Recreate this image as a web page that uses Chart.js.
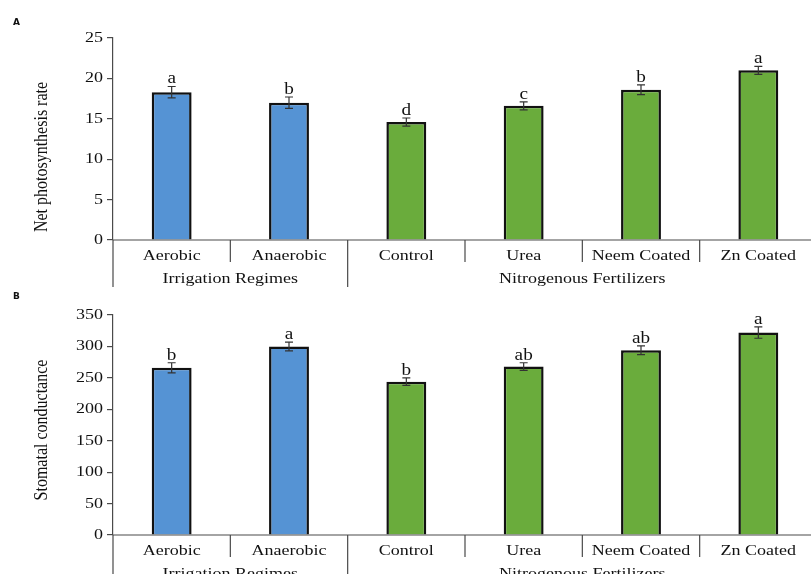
<!DOCTYPE html>
<html>
<head>
<meta charset="utf-8">
<title>Net photosynthesis rate and stomatal conductance</title>
<script src="https://cdn.jsdelivr.net/npm/chart.js@4.4.1/dist/chart.umd.min.js"></script>
<style>
    body { margin: 0; background: #fff; width: 811px; height: 574px; overflow: hidden; position: relative; }
    .panel { position: absolute; left: 0; width: 817px; }
</style>
</head>
<body>
<div class="panel" style="top:0;height:290px"><canvas id="photoCanvas"></canvas></div>
<div class="panel" style="top:290px;height:284px"><canvas id="stomCanvas"></canvas></div>

<script>
// categories and groups
const categories = ['Aerobic', 'Anaerobic', 'Control', 'Urea', 'Neem Coated', 'Zn Coated'];
const groupNames = ['Irrigation Regimes', 'Nitrogenous Fertilizers'];
const groupSizes = [2, 4];

// panel A - net photosynthesis rate
const photoValues = [18.3, 17.0, 14.6, 16.6, 18.6, 21.0];
const photoErrors = [0.7, 0.7, 0.5, 0.5, 0.6, 0.5];
const photoLetters = ['a', 'b', 'd', 'c', 'b', 'a'];
const photoTicks = [0, 5, 10, 15, 20, 25];

// panel B - stomatal conductance
const stomValues = [266, 300, 244, 268, 294, 322];
const stomErrors = [8, 7, 6, 6, 7, 9];
const stomLetters = ['b', 'a', 'b', 'ab', 'ab', 'a'];
const stomTicks = [0, 50, 100, 150, 200, 250, 300, 350];

const blue = '#5593d4';
const green = '#6aac3c';
const axisColor = '#4a4a4a';
const textColor = '#111';
const serif = '"Liberation Serif", "Times New Roman", serif';
const stretch = 1.2; // the source picture is a little wider than it is tall

function drawText(ctx, text, x, y, size, align, baseline) {
    ctx.save();
    ctx.translate(x, y);
    ctx.scale(stretch, 1);
    ctx.font = size + 'px ' + serif;
    ctx.fillStyle = textColor;
    ctx.textAlign = align;
    ctx.textBaseline = baseline;
    ctx.fillText(text, 0, 0);
    ctx.restore();
}

// Draws error bars, letters, the grouped category axis and the titles
const panelDecor = {
    id: 'panelDecor',
    afterDraw(chart, args, opts) {
        const ctx = chart.ctx;
        const area = chart.chartArea;
        const x = chart.scales.x;
        const y = chart.scales.y;
        const meta = chart.getDatasetMeta(0);
        const values = chart.data.datasets[0].data;

        ctx.save();
        // y tick labels
        opts.ticks.forEach(t => {
            drawText(ctx, String(t), area.left - 10, y.getPixelForValue(t), 15, 'right', 'middle');
        });

        // error bars and letters
        ctx.strokeStyle = '#333';
        ctx.lineWidth = 1.2;
        meta.data.forEach((bar, i) => {
            const cx = bar.x;
            const top = y.getPixelForValue(values[i] + opts.errors[i]);
            const bottom = y.getPixelForValue(values[i] - opts.errors[i]);
            ctx.beginPath();
            ctx.moveTo(cx, top); ctx.lineTo(cx, bottom);
            ctx.moveTo(cx - 4, top); ctx.lineTo(cx + 4, top);
            ctx.moveTo(cx - 4, bottom); ctx.lineTo(cx + 4, bottom);
            ctx.stroke();
            drawText(ctx, opts.letters[i], cx, top - 3, 16, 'center', 'alphabetic');
        });

        // x axis line and grouped category separators
        const base = area.bottom;
        ctx.strokeStyle = axisColor;
        ctx.lineWidth = 1.2;
        ctx.beginPath();
        ctx.moveTo(area.left, base); ctx.lineTo(area.right, base);
        ctx.moveTo(area.left, base); ctx.lineTo(area.left, base + 47);
        const half = (x.getPixelForValue(1) - x.getPixelForValue(0)) / 2;
        let index = 0;
        groupSizes.forEach((size, g) => {
            for (let k = 1; k < size; k++) {
                const sx = x.getPixelForValue(index + k) - half;
                ctx.moveTo(sx, base); ctx.lineTo(sx, base + 22);
            }
            index += size;
            if (g < groupSizes.length - 1) {
                const gx = x.getPixelForValue(index) - half;
                ctx.moveTo(gx, base); ctx.lineTo(gx, base + 47);
            }
        });
        ctx.stroke();

        categories.forEach((c, i) => {
            drawText(ctx, c, x.getPixelForValue(i), base + 16, 15, 'center', 'middle');
        });
        index = 0;
        groupSizes.forEach((size, g) => {
            const mid = (x.getPixelForValue(index) + x.getPixelForValue(index + size - 1)) / 2;
            drawText(ctx, groupNames[g], mid, base + 39, 15, 'center', 'middle');
            index += size;
        });

        // y axis title
        ctx.save();
        ctx.translate(42, opts.titleY);
        ctx.rotate(-Math.PI / 2);
        ctx.scale(1, stretch);
        ctx.font = '16px ' + serif;
        ctx.fillStyle = textColor;
        ctx.textAlign = 'center';
        ctx.textBaseline = 'middle';
        ctx.fillText(opts.title, 0, 0);
        ctx.restore();

        // panel letter
        ctx.font = 'bold 9px "DejaVu Sans", sans-serif';
        ctx.fillStyle = textColor;
        ctx.textAlign = 'left';
        ctx.textBaseline = 'middle';
        ctx.fillText(opts.panel, 13, opts.panelY);
        ctx.restore();
    }
};

function buildChart(canvasId, values, maxY, stepY, topPad, axisHeight, decor) {
    const colors = categories.map((c, i) => i < groupSizes[0] ? blue : green);
    return new Chart(document.getElementById(canvasId), {
        type: 'bar',
        data: {
            labels: categories,
            datasets: [{
                data: values,
                backgroundColor: colors,
                borderColor: '#111',
                borderWidth: 2.5,
                borderSkipped: 'bottom',
                barPercentage: 0.34,
                categoryPercentage: 1
            }]
        },
        options: {
            responsive: true,
            maintainAspectRatio: false,
            animation: false,
            layout: { padding: { top: topPad, right: 0, bottom: 0, left: 0 } },
            scales: {
                x: {
                    grid: { display: false },
                    border: { display: false },
                    ticks: { display: false },
                    afterFit: (scale) => { scale.height = axisHeight; }
                },
                y: {
                    min: 0,
                    max: maxY,
                    ticks: { display: false, stepSize: stepY },
                    grid: { drawOnChartArea: false, drawTicks: true, tickLength: 6, color: axisColor, lineWidth: 1.2 },
                    border: { display: true, color: axisColor, width: 1.2 },
                    afterFit: (scale) => { scale.width = 113; }
                }
            },
            plugins: {
                legend: { display: false },
                tooltip: { enabled: false },
                panelDecor: decor
            }
        },
        plugins: [panelDecor]
    });
}

document.addEventListener('DOMContentLoaded', () => {
    buildChart('photoCanvas', photoValues, 25, 5, 38, 50, {
        panel: 'A', panelY: 23, title: 'Net photosynthesis rate', titleY: 157,
        errors: photoErrors, letters: photoLetters, ticks: photoTicks
    });
    buildChart('stomCanvas', stomValues, 350, 50, 25, 39, {
        panel: 'B', panelY: 7, title: 'Stomatal conductance', titleY: 140,
        errors: stomErrors, letters: stomLetters, ticks: stomTicks
    });
});
</script>
</body>
</html>
